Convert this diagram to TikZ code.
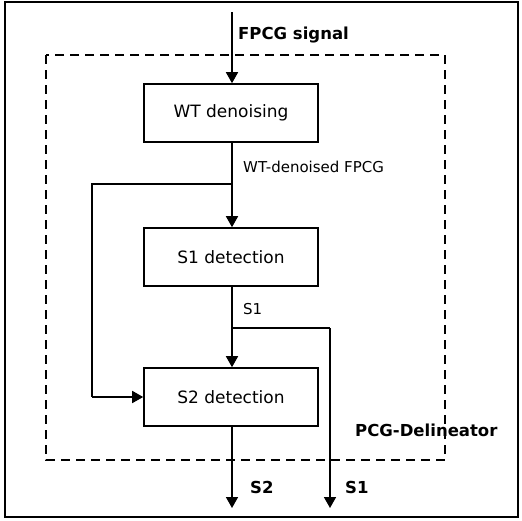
\documentclass[tikz,border=0pt]{standalone}
\usepackage{fontspec}
\setmainfont{DejaVu Sans}
\usetikzlibrary{arrows.meta}
\begin{document}
\begin{tikzpicture}[x=1pt,y=-1pt,
  box/.style={draw,line width=1.6pt,minimum width=174pt,minimum height=58pt,inner sep=0pt,font=\fontsize{17}{20}\selectfont},
  conn/.style={line width=1.6pt},
  arr/.style={conn,-{Triangle[length=11pt,width=12pt]}},
  lbl/.style={font=\fontsize{15}{18}\selectfont,inner sep=0pt,anchor=west},
  blbl/.style={font=\bfseries\fontsize{16.5}{19}\selectfont,inner sep=0pt,anchor=west}]
\useasboundingbox (0,0) rectangle (522,520);
\draw[line width=1.8pt] (5,2) rectangle (518,517);
\draw[line width=1.5pt,dash pattern=on 9pt off 6pt] (46,55) rectangle (445,460);
\node[box] (wt) at (231,113) {WT denoising};
\node[box] (s1) at (231,257) {S1 detection};
\node[box] (s2) at (231,397) {S2 detection};
\coordinate (in) at (232,12);
\coordinate (b1) at (232,184);
\coordinate (l1) at (92,184);
\coordinate (l2) at (92,397);
\coordinate (b2) at (232,328);
\coordinate (r1) at (330,328);
\coordinate (o1) at (330,508);
\coordinate (o2) at (232,508);
\draw[arr] (in) -- (in |- wt.north);
\draw[arr] (wt.south -| b1) -- (b1 |- s1.north);
\draw[conn] (b1) -- (l1) -- (l2);
\draw[arr] (l2) -- (s2.west);
\draw[arr] (s1.south -| b2) -- (b2 |- s2.north);
\draw[conn] (b2) -- (r1);
\draw[arr] (r1) -- (o1);
\draw[arr] (s2.south -| o2) -- (o2);
\node[blbl] (t1) at (238,35) {FPCG signal};
\node[lbl] (t2) at (243,167) {WT-denoised FPCG};
\node[lbl] (t3) at (243,309) {S1};
\node[blbl] (t4) at (355,430) {PCG-Delineator};
\node[blbl] (t5) at (250,487) {S2};
\node[blbl] (t6) at (345,487) {S1};
\end{tikzpicture}
\end{document}
